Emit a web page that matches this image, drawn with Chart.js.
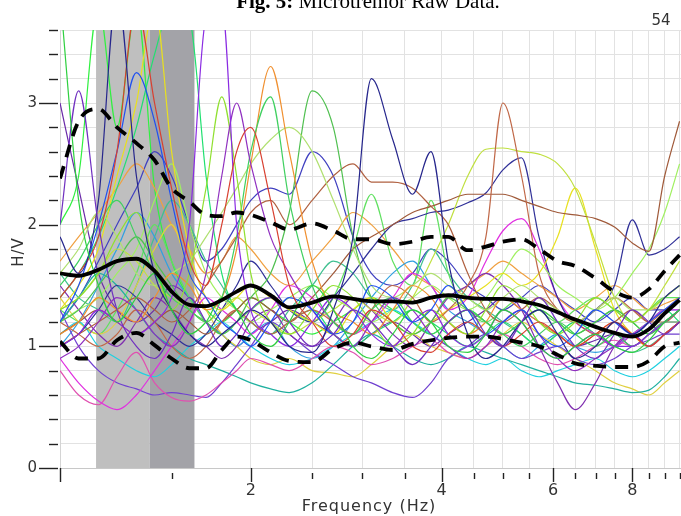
<!DOCTYPE html>
<html><head><meta charset="utf-8">
<script src="https://cdn.jsdelivr.net/npm/chart.js@4.4.1/dist/chart.umd.min.js"></script>
<style>html,body{margin:0;padding:0;background:#fff;overflow:hidden}</style>
</head><body>
<canvas id="c" width="681" height="516"></canvas>
<script>
// ---------- DATA ----------
const freqs = [1.0,1.07,1.15,1.23,1.32,1.41,1.5,1.6,1.7,1.8,1.9,2.0,2.15,2.3,2.5,2.7,2.9,3.1,3.35,3.6,3.85,4.1,4.4,4.7,5.0,5.35,5.7,6.1,6.5,7.0,7.5,8.0,8.5,9.0,9.5];
const xTickValues = [1,1.5,2,2.5,3,3.5,4,4.5,5,5.5,6,6.5,7,7.5,8,8.5,9,9.5];
const xTickLabels = [2,4,6,8];
const yTickLabels = [0,1,2,3];
const shadeBands = [[1.14,1.385],[1.385,1.63]];
const shadeColors = ['#bfbfbf','#a3a3a8'];

const meanHV  = [1.60,1.58,1.63,1.70,1.72,1.62,1.45,1.34,1.33,1.38,1.45,1.50,1.42,1.32,1.36,1.41,1.39,1.37,1.37,1.36,1.40,1.42,1.40,1.39,1.39,1.37,1.34,1.28,1.22,1.16,1.11,1.08,1.14,1.27,1.38];
const upperHV = [2.38,2.85,2.95,2.80,2.67,2.53,2.30,2.19,2.08,2.07,2.10,2.08,2.02,1.96,2.01,1.95,1.88,1.88,1.84,1.86,1.90,1.90,1.79,1.82,1.86,1.88,1.80,1.70,1.66,1.56,1.45,1.40,1.47,1.62,1.75];
const lowerHV = [1.04,0.90,0.90,1.05,1.11,1.01,0.90,0.82,0.82,0.97,1.08,1.05,0.95,0.88,0.87,0.98,1.03,1.00,0.97,1.02,1.05,1.07,1.08,1.08,1.06,1.03,1.00,0.93,0.86,0.84,0.83,0.83,0.88,1.00,1.03];

const curveGreen1  = [3.9,2.2,1.5,1.2,1.4,1.6,1.3,1.1,1.2,1.4,1.3,1.1,1.0,1.2,1.5,1.3,1.0,0.9,1.1,1.3,1.2,1.0,0.95,1.1,1.3,1.2,1.0,0.9,1.0,1.1,1.0,0.95,1.05,1.2,1.3];
const curvePurple1 = [2.0,3.1,2.0,1.3,1.0,0.9,1.1,1.4,1.2,1.0,1.1,1.3,1.4,1.2,1.0,1.1,1.3,1.2,1.0,0.85,1.0,1.2,1.3,1.1,1.0,1.2,1.4,1.2,1.0,0.9,1.1,1.3,1.2,1.1,1.2];
const curveNavy1   = [1.9,1.6,2.2,3.9,2.4,1.6,1.3,1.1,1.0,1.1,1.2,1.3,1.2,1.0,0.95,1.3,1.9,3.2,2.7,2.25,2.6,1.7,1.1,0.9,1.0,1.2,1.3,1.1,0.9,1.0,1.2,1.1,1.2,1.4,1.5];
const curveRed1    = [1.4,1.6,1.9,2.6,3.8,3.0,2.3,1.7,1.5,2.0,2.6,2.8,2.2,1.5,1.2,1.0,1.1,1.3,1.2,1.0,0.95,1.1,1.2,1.1,1.0,1.1,1.2,1.1,1.0,1.1,1.2,1.1,1.0,1.1,1.2];
const curveBlue1   = [1.2,1.5,2.0,2.6,3.25,2.85,2.2,1.6,1.4,1.2,1.1,1.0,1.2,1.4,1.3,1.1,1.2,1.5,1.4,1.2,1.3,1.5,1.3,1.1,1.2,1.3,1.1,1.0,1.1,1.3,1.2,1.1,1.2,1.3,1.4];
const curvePurple2 = [1.0,1.1,1.3,1.2,1.1,1.2,1.4,2.0,3.7,3.8,2.0,1.3,1.1,1.0,1.2,1.4,1.3,1.1,1.0,1.2,1.3,1.1,1.0,1.1,1.3,1.2,1.0,0.9,1.0,1.1,1.0,1.0,1.1,1.2,1.3];
const curvePurple3 = [0.9,1.0,1.2,1.4,1.3,1.1,1.0,1.2,1.6,2.4,3.0,2.5,1.9,1.6,1.3,1.1,1.0,1.2,1.4,1.3,1.1,1.0,0.9,1.0,1.2,1.3,1.1,0.9,0.8,0.9,1.0,1.1,1.0,1.1,1.2];
const curveLime1   = [1.3,1.4,1.6,1.9,2.1,1.7,1.3,1.6,2.3,3.05,2.4,1.6,1.2,1.1,1.3,1.5,1.4,1.2,1.0,1.1,1.3,1.2,1.1,1.3,1.5,1.4,1.2,1.1,1.2,1.4,1.3,1.2,1.3,1.4,1.5];
const curveGreen2  = [1.5,1.7,2.0,2.2,1.9,1.6,1.4,1.3,1.2,1.4,1.9,2.6,3.05,2.2,1.5,1.2,1.1,1.3,1.4,1.2,1.1,1.2,1.3,1.2,1.1,1.0,1.1,1.2,1.1,1.0,1.1,1.0,1.1,1.2,1.2];
const curveOrange1 = [1.1,1.2,1.4,1.3,1.2,1.4,1.6,1.5,1.3,1.4,1.8,2.5,3.3,2.6,1.7,1.3,1.2,1.1,1.3,1.5,1.4,1.2,1.1,1.2,1.4,1.3,1.2,1.1,1.0,1.1,1.2,1.1,1.0,1.1,1.2];
const curveLtGreen = [1.6,1.8,2.1,1.9,1.6,1.5,1.6,1.7,1.9,2.1,2.3,2.5,2.7,2.8,2.6,2.2,1.8,1.5,1.4,1.5,1.6,1.5,1.4,1.3,1.4,1.5,1.4,1.3,1.2,1.3,1.4,1.3,1.3,1.4,1.5];
const curveGreen3  = [1.2,1.3,1.5,1.7,1.9,1.7,1.5,1.3,1.2,1.1,1.2,1.4,1.6,2.1,3.1,2.8,1.9,1.4,1.2,1.1,1.2,1.4,1.3,1.2,1.1,1.2,1.3,1.2,1.1,1.2,1.3,1.2,1.1,1.2,1.3];
const curveBrown1  = [1.0,1.1,1.2,1.3,1.4,1.3,1.2,1.3,1.5,1.7,1.9,2.1,2.2,2.0,2.2,2.4,2.5,2.35,2.35,2.3,2.15,2.0,1.6,1.3,1.2,1.3,1.4,1.3,1.2,1.1,1.2,1.3,1.2,1.2,1.3];
const curveBrown2  = [1.2,1.1,1.0,1.1,1.3,1.2,1.0,0.9,1.0,1.2,1.3,1.2,1.1,1.2,1.3,1.2,1.1,1.3,1.5,1.4,1.2,1.3,1.5,1.9,3.0,2.4,1.6,1.3,1.2,1.3,1.4,1.3,1.2,1.3,1.4];
const curveBrown3  = [1.1,1.2,1.3,1.2,1.1,1.2,1.3,1.2,1.1,1.2,1.3,1.4,1.3,1.2,1.4,1.6,1.8,1.9,2.0,2.1,2.15,2.2,2.25,2.25,2.25,2.2,2.15,2.1,2.08,2.05,1.98,1.85,1.78,2.4,2.85];
const curveYelGrn  = [1.3,1.4,1.6,1.8,1.7,1.5,1.4,1.3,1.2,1.3,1.4,1.3,1.2,1.1,1.2,1.3,1.4,1.3,1.2,1.4,1.7,2.0,2.4,2.62,2.63,2.6,2.58,2.5,2.3,1.85,1.4,1.2,1.3,1.5,1.7];
const curveYellow1 = [1.3,1.5,1.8,2.4,3.0,3.8,2.6,1.8,1.4,1.3,1.4,1.5,1.4,1.3,1.2,1.1,1.3,1.4,1.2,1.1,1.2,1.3,1.4,1.5,1.6,1.5,1.6,1.9,2.3,1.8,1.3,1.1,1.0,1.1,1.2];
const curveLtGreen2= [1.2,1.3,1.4,1.6,1.8,2.2,2.5,2.0,1.6,1.4,1.3,1.2,1.3,1.4,1.5,1.4,1.3,1.2,1.3,1.4,1.5,1.4,1.3,1.4,1.6,1.8,1.7,1.5,1.4,1.3,1.4,1.6,1.8,2.1,2.5];
const curveNavy2   = [1.0,1.1,1.3,1.5,1.4,1.2,1.1,1.0,1.1,1.3,1.5,1.7,1.5,1.3,1.2,1.4,1.6,1.8,2.0,2.05,2.1,2.12,2.18,2.26,2.45,2.55,1.9,1.4,1.2,1.3,1.5,2.04,1.75,1.8,1.9];
const curvePurple4 = [1.5,1.3,1.1,1.0,1.2,1.4,1.3,1.1,1.0,0.9,1.0,1.2,1.3,1.1,1.0,1.2,1.4,1.3,1.1,1.0,1.2,1.4,1.5,1.6,1.5,1.3,1.0,0.7,0.48,0.7,1.0,1.1,1.0,1.1,1.2];
const curveMagenta = [0.9,0.7,0.55,0.48,0.6,0.8,1.0,1.2,1.4,1.3,1.2,1.1,1.3,1.5,1.4,1.2,1.1,1.2,1.4,1.6,1.5,1.3,1.4,1.7,1.95,2.05,1.8,1.4,1.2,1.1,1.0,1.1,1.2,1.3,1.3];
const curvePink    = [0.8,0.6,0.52,0.75,0.95,0.7,0.58,0.55,0.6,0.7,0.8,0.9,0.85,0.8,0.9,1.0,0.95,0.85,0.9,1.0,1.05,0.95,0.9,1.0,1.1,1.0,0.9,0.85,0.9,1.0,1.05,1.0,1.1,1.2,1.2];
const curvePurple5 = [1.3,1.0,0.8,0.7,0.65,0.6,0.62,0.6,0.58,0.7,0.85,1.0,1.2,1.1,0.95,0.85,0.75,0.7,0.62,0.58,0.7,0.9,1.0,1.1,1.0,0.9,0.95,1.0,0.9,0.85,0.9,1.0,1.05,1.1,1.1];
const curveTeal    = [1.2,1.4,1.6,1.5,1.3,1.1,1.0,0.9,0.85,0.8,0.75,0.7,0.65,0.62,0.7,0.85,1.0,1.1,1.0,0.9,0.85,0.9,1.0,0.95,0.9,0.85,0.8,0.75,0.7,0.68,0.65,0.62,0.64,0.75,0.9];
const curveCyan    = [1.1,1.2,1.0,0.9,0.8,0.75,0.85,1.0,1.1,1.2,1.1,1.0,0.9,0.85,0.9,1.0,1.1,1.2,1.3,1.2,1.1,1.0,0.9,0.85,0.9,0.8,0.75,0.8,0.85,0.9,0.8,0.75,0.8,0.9,1.0];
const curveYellow2 = [1.4,1.2,1.1,1.2,1.5,1.8,2.0,1.6,1.3,1.1,1.0,0.9,0.85,0.9,0.8,0.78,0.75,0.85,1.0,1.1,1.0,0.95,0.9,1.0,1.1,1.2,1.1,1.0,0.9,0.8,0.7,0.65,0.6,0.7,0.8];
const curveGreen4  = [1.4,1.6,1.9,2.3,2.8,3.4,3.8,3.7,2.4,1.6,1.3,1.2,1.1,1.2,1.3,1.1,1.0,1.1,1.2,1.3,1.2,1.1,1.0,1.1,1.2,1.1,1.0,1.1,1.2,1.1,1.0,1.1,1.2,1.3,1.2];
const curveGreen5  = [1.3,1.2,1.1,1.3,1.6,2.0,1.7,1.4,1.2,1.1,1.2,1.3,1.4,1.3,1.2,1.4,1.8,2.25,1.7,1.5,2.2,1.6,1.3,1.2,1.3,1.4,1.3,1.2,1.3,1.4,1.3,1.2,1.3,1.4,1.4];
const curveSky     = [1.0,1.2,1.5,1.8,2.1,1.9,1.6,1.4,1.2,1.1,1.0,1.1,1.2,1.0,0.9,1.0,1.2,1.4,1.6,1.7,1.5,1.3,1.2,1.1,1.0,0.9,1.0,1.1,1.0,0.95,1.0,1.1,1.2,1.3,1.3];
const curveSea     = [1.6,1.4,1.3,1.2,1.5,1.9,2.2,2.0,1.7,1.5,1.3,1.2,1.1,1.3,1.5,1.7,1.6,1.4,1.3,1.5,1.8,1.6,1.4,1.3,1.2,1.1,1.0,1.1,1.2,1.1,1.0,0.95,1.0,1.1,1.2];
const curveOrange2 = [1.7,1.9,2.1,2.3,2.5,2.3,2.0,1.8,1.6,1.7,1.9,1.8,1.6,1.5,1.7,1.9,2.1,2.0,1.8,1.6,1.5,1.4,1.5,1.6,1.7,1.6,1.5,1.4,1.3,1.4,1.5,1.4,1.3,1.35,1.4];
const curveBlue2   = [1.2,1.4,1.7,2.0,2.3,2.6,2.4,2.0,1.7,1.8,2.0,2.2,2.3,2.25,2.6,2.4,1.9,1.6,1.5,1.6,1.8,1.7,1.5,1.4,1.3,1.4,1.5,1.4,1.3,1.2,1.3,1.4,1.3,1.3,1.4];
const curvePurple6 = [3.0,2.3,1.6,1.3,1.2,1.3,1.5,1.4,1.2,1.1,1.0,1.1,1.2,1.3,1.2,1.1,1.0,1.1,1.2,1.1,1.0,1.1,1.2,1.3,1.4,1.3,1.2,1.1,1.0,1.05,1.1,1.0,1.1,1.2,1.3];
const curveGreen6  = [2.0,2.4,3.8,2.8,3.8,2.3,1.7,1.4,1.3,1.2,1.3,1.4,1.3,1.2,1.1,1.2,1.3,1.4,1.3,1.2,1.1,1.2,1.3,1.2,1.1,1.2,1.3,1.2,1.1,1.2,1.3,1.2,1.1,1.2,1.3];

const curves = [
  [curveGreen1,'#2fd040'],[curvePurple1,'#7030c0'],[curveNavy1,'#26268c'],[curveRed1,'#d84030'],
  [curveBlue1,'#2050f0'],[curvePurple2,'#8a2be2'],[curvePurple3,'#9030c0'],[curveLime1,'#90e030'],
  [curveGreen2,'#40d060'],[curveOrange1,'#f09030'],[curveLtGreen,'#b0e070'],[curveGreen3,'#50c050'],
  [curveBrown1,'#b06040'],[curveBrown2,'#c06848'],[curveBrown3,'#a05a3a'],[curveYelGrn,'#c0e040'],
  [curveYellow1,'#e8e020'],[curveLtGreen2,'#a0f060'],[curveNavy2,'#303098'],[curvePurple4,'#8030b0'],
  [curveMagenta,'#e030e0'],[curvePink,'#e050b0'],[curvePurple5,'#7040d0'],[curveTeal,'#20b0a0'],
  [curveCyan,'#20d0e0'],[curveYellow2,'#e0d040'],[curveGreen4,'#20e070'],[curveGreen5,'#60e060'],
  [curveSky,'#30a0e0'],[curveSea,'#40c090'],[curveOrange2,'#f0a040'],[curveBlue2,'#4040c0'],
  [curvePurple6,'#6a2aa8'],[curveGreen6,'#30f040']
];

// ---------- BUILD ----------
const pts = arr => arr.map((v,i)=>({x:freqs[i], y:v}));
const datasets = [];
datasets.push({data:pts(meanHV), borderColor:'#000', borderWidth:3.8, order:0, cubicInterpolationMode:'monotone'});
datasets.push({data:pts(upperHV), borderColor:'#000', borderWidth:3.8, borderDash:[13,9], order:1, cubicInterpolationMode:'monotone'});
datasets.push({data:pts(lowerHV), borderColor:'#000', borderWidth:3.8, borderDash:[13,9], order:1, cubicInterpolationMode:'monotone'});
curves.forEach(([arr,col],i)=>datasets.push({data:pts(arr), borderColor:col, borderWidth:1.2, order:2+i, cubicInterpolationMode:'monotone'}));

const decor = {
  id:'decor',
  beforeDatasetsDraw(chart){
    const {ctx, chartArea:a, scales:{x}} = chart;
    ctx.save();
    shadeBands.forEach(([f0,f1],i)=>{
      const x0=x.getPixelForValue(f0), x1=x.getPixelForValue(f1);
      ctx.fillStyle=shadeColors[i];
      ctx.fillRect(x0,a.top,x1-x0,a.bottom-a.top);
    });
    ctx.restore();
  },
  afterDraw(chart){
    const {ctx, chartArea:a, scales:{x,y}} = chart;
    ctx.save();
    ctx.strokeStyle='#222'; ctx.lineWidth=1.4;
    for(let k=0;k<=18;k++){
      const v=k*0.2, py=Math.round(y.getPixelForValue(v))+0.5;
      const major=(k%5===0);
      ctx.beginPath();
      ctx.moveTo(major?39:49,py); ctx.lineTo(58,py); ctx.stroke();
    }
    xTickValues.forEach(v=>{
      const px=Math.round(x.getPixelForValue(v))+0.5;
      const major=xTickLabels.includes(v)||v===1;
      ctx.beginPath();
      if(major){ctx.moveTo(px,a.bottom);ctx.lineTo(px,a.bottom+14);}
      else {ctx.moveTo(px,a.bottom+5);ctx.lineTo(px,a.bottom+11);}
      ctx.stroke();
    });
    ctx.fillStyle='#333';
    ctx.font='16px "DejaVu Sans"';
    ctx.textAlign='center'; ctx.textBaseline='middle';
    ctx.letterSpacing='1px';
    ctx.fillText('Frequency (Hz)', 369, 507);
    ctx.font='15px "DejaVu Sans"';
    ctx.save(); ctx.translate(19,252); ctx.rotate(-Math.PI/2); ctx.fillText('H/V',0,0); ctx.restore();
    ctx.letterSpacing='0px';
    ctx.font='15px "DejaVu Sans"'; ctx.fillStyle='#333';
    ctx.fillText('54', 661, 21);
    const b='Fig. 5:', r=' Microtremor Raw Data.';
    ctx.fillStyle='#000'; ctx.textBaseline='alphabetic'; ctx.textAlign='left';
    ctx.font='bold 21px "Liberation Serif"'; const wb=ctx.measureText(b).width;
    ctx.font='21px "Liberation Serif"'; const wr=ctx.measureText(r).width;
    const x0=368-(wb+wr)/2;
    ctx.font='bold 21px "Liberation Serif"'; ctx.fillText(b,x0,8);
    ctx.font='21px "Liberation Serif"'; ctx.fillText(r,x0+wb,8);
    ctx.restore();
  }
};

new Chart(document.getElementById('c'), {
  type:'line',
  data:{datasets},
  plugins:[decor],
  options:{
    responsive:false, animation:false, events:[],
    layout:{padding:{top:30,left:0,right:0,bottom:0}},
    elements:{point:{radius:0}, line:{fill:false}},
    plugins:{legend:{display:false}, tooltip:{enabled:false}, title:{display:false}},
    scales:{
      x:{type:'logarithmic', min:1, max:9.55,
         afterFit(s){s.height=48; s.paddingLeft=0; s.paddingRight=0;},
         afterBuildTicks(s){s.ticks=xTickValues.map(v=>({value:v}));},
         grid:{color:'#e2e2e2', lineWidth:1, drawTicks:false},
         border:{color:'#c8c8c8'},
         ticks:{autoSkip:false, maxRotation:0, padding:13, color:'#333', font:{family:'DejaVu Sans', size:16},
                callback:(v)=>xTickLabels.includes(v)?String(v):''}},
      y:{type:'linear', min:0, max:3.6,
         afterFit(s){s.width=60; s.paddingTop=0; s.paddingBottom=0;},
         afterBuildTicks(s){const t=[];for(let k=0;k<=18;k++)t.push({value:+(k*0.2).toFixed(1)});s.ticks=t;},
         grid:{color:'#e2e2e2', lineWidth:1, drawTicks:false},
         border:{color:'#d4d4d4'},
         ticks:{autoSkip:false, padding:23, color:'#333', font:{family:'DejaVu Sans', size:15},
                callback:(v)=>yTickLabels.includes(v)?String(v):''}}
    }
  }
});
</script>
</body></html>
